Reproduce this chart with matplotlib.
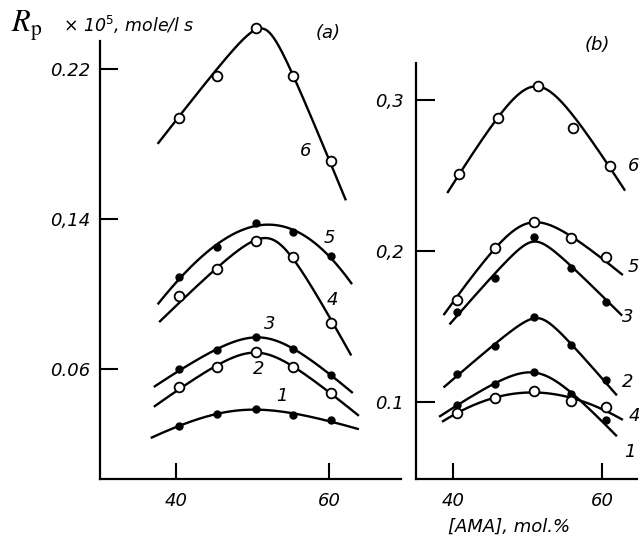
import numpy as np
import matplotlib
matplotlib.use("Agg")
import matplotlib.pyplot as plt

# [AMA], mol.% of the measured points
x_a = [40.4, 45.4, 50.4, 55.3, 60.2]
x_b = [40.5, 45.6, 50.8, 55.8, 60.5]
x_b6 = [40.8, 46.0, 51.4, 56.1, 61.1]

# panel (a) : Rp x 10^5, mole/l s
a1 = [0.0296, 0.0360, 0.0387, 0.0355, 0.0328]
a2 = [0.0504, 0.0611, 0.0691, 0.0611, 0.0472]
a3 = [0.0600, 0.0701, 0.0771, 0.0707, 0.0568]
a4 = [0.0989, 0.1133, 0.1283, 0.1197, 0.0845]
a5 = [0.1090, 0.1250, 0.1380, 0.1330, 0.1200]
a6 = [0.194, 0.216, 0.242, 0.216, 0.171]

# panel (b)
b1 = [0.098, 0.112, 0.120, 0.105, 0.088]
b2 = [0.1185, 0.137, 0.156, 0.138, 0.1146]
b3 = [0.1596, 0.182, 0.209, 0.1887, 0.166]
b4 = [0.0927, 0.1026, 0.1073, 0.1007, 0.0967]
b5 = [0.1675, 0.202, 0.219, 0.2086, 0.196]
b6 = [0.251, 0.288, 0.309, 0.281, 0.256]

# where the hand drawn curve passes when it misses a point
a6_curve = [0.194, 0.219, 0.242, 0.216, 0.171]
b6_curve = [0.251, 0.288, 0.309, 0.289, 0.256]

# where the drawn curves start and end (x0, y0, x1, y1)
ends_a = {1: (36.7, 0.0232, 63.9, 0.0275), 2: (37.1, 0.0392, 63.9, 0.0349),
          3: (37.1, 0.0499, 63.1, 0.0472), 4: (37.8, 0.0824, 62.9, 0.0685),
          5: (37.6, 0.0940, 63.0, 0.1050), 6: (37.6, 0.181, 62.2, 0.149)}
ends_b = {1: (38.1, 0.090, 62.0, 0.075), 2: (38.7, 0.109, 62.0, 0.103),
          3: (39.5, 0.150, 62.7, 0.159), 4: (38.5, 0.0868, 62.8, 0.0868),
          5: (38.7, 0.159, 62.8, 0.182), 6: (39.2, 0.238, 63.1, 0.239)}

# curve number labels
lab_a = {1: (53.8, 0.0456), 2: (50.8, 0.060), 3: (52.2, 0.084),
         4: (60.4, 0.097), 5: (60.1, 0.130), 6: (56.9, 0.176)}
lab_b = {1: (63.8, 0.067), 2: (63.5, 0.113), 3: (63.4, 0.156),
         4: (64.4, 0.091), 5: (64.2, 0.189), 6: (64.2, 0.256)}

ytick_a = [0.06, 0.14, 0.22]
ytick_a_lab = ["0.06", "0,14", "0.22"]
ytick_b = [0.1, 0.2, 0.3]
ytick_b_lab = ["0.1", "0,2", "0,3"]
xtick = [40, 60]

tfont = ['Liberation Sans Narrow', 'DejaVu Sans']


def peak_fit(xs, ys):
    # least squares y = c + a*u - b*sqrt(u^2 + e^2), u = x - x0
    # (two straight flanks joined by a rounded top, like the drawn curves)
    xs = np.asarray(xs, float)
    ys = np.asarray(ys, float)
    best = None
    for x0 in np.linspace(xs[1], xs[-2], 90):
        u = xs - x0
        for e in np.geomspace(2.0, 25, 50):
            A = np.column_stack([np.ones_like(u), u, -np.sqrt(u ** 2 + e ** 2)])
            coef, *_ = np.linalg.lstsq(A, ys, rcond=None)
            err = np.sum((A @ coef - ys) ** 2)
            if best is None or err < best[0]:
                best = (err, x0, e, coef)
    _, x0, e, (c, a, b) = best
    xx = np.linspace(xs[0], xs[-1], 300)
    u = xx - x0
    return xx, c + a * u - b * np.sqrt(u ** 2 + e ** 2)


def draw_curve(ax, x, y, ends, filled, ycurve=None):
    x0, y0, x1, y1 = ends
    yc = y if ycurve is None else ycurve
    xx, yy = peak_fit([x0] + list(x) + [x1], [y0] + list(yc) + [y1])
    ax.plot(xx, yy, color='k', lw=1.7, zorder=2, solid_capstyle='butt')
    if filled:
        ax.plot(x, y, 'o', ms=5, color='k', zorder=3)
    else:
        ax.plot(x, y, 'o', ms=7, mfc='white', mec='k', mew=1.3, zorder=3)


fig = plt.figure(figsize=(6.42, 5.40), dpi=100, facecolor='w')
ax_a = fig.add_axes([100/642, 61/540, 301/642, 479/540])
ax_b = fig.add_axes([416/642, 61/540, 221/642, 479/540])

ax_a.set_xlim(30.07, 69.4)
ax_a.set_ylim(0.0013, 0.2568)
ax_b.set_xlim(35.0, 64.7)
ax_b.set_ylim(0.049, 0.366)

for n, (yv, f) in enumerate([(a1, 1), (a2, 0), (a3, 1), (a4, 0), (a5, 1), (a6, 0)], 1):
    draw_curve(ax_a, x_a, yv, ends_a[n], f, a6_curve if n == 6 else None)
    ax_a.text(*lab_a[n], str(n), family=tfont, style='italic', fontsize=13,
              ha='center', va='center')

for n, (xv, yv, f) in enumerate([(x_b, b1, 1), (x_b, b2, 1), (x_b, b3, 1),
                                 (x_b, b4, 0), (x_b, b5, 0), (x_b6, b6, 0)], 1):
    draw_curve(ax_b, xv, yv, ends_b[n], f, b6_curve if n == 6 else None)
    ax_b.text(*lab_b[n], str(n), family=tfont, style='italic', fontsize=13,
              ha='center', va='center', clip_on=False)

ax_a.text(59.9, 0.239, "(a)", family=tfont, style='italic', fontsize=13,
          ha='center', va='center')
ax_b.text(59.3, 0.336, "(b)", family=tfont, style='italic', fontsize=13,
          ha='center', va='center')

for ax, yt, ylab, ytop in [(ax_a, ytick_a, ytick_a_lab, 0.235),
                           (ax_b, ytick_b, ytick_b_lab, 0.324)]:
    ax.set_facecolor('none')
    ax.spines['top'].set_visible(False)
    ax.spines['right'].set_visible(False)
    ax.spines['left'].set_linewidth(1.6)
    ax.spines['bottom'].set_linewidth(1.6)
    ax.spines['left'].set_bounds(ax.get_ylim()[0], ytop)
    ax.set_yticks(yt)
    ax.set_yticklabels(ylab)
    ax.set_xticks(xtick)
    ax.set_xticklabels([str(v) for v in xtick])
    ax.tick_params(axis='y', direction='in', length=13, width=1.5, pad=7)
    ax.tick_params(axis='x', direction='in', length=11.5, width=1.5, pad=9)
    for t in ax.get_xticklabels() + ax.get_yticklabels():
        t.set_family(tfont)
        t.set_style('italic')
        t.set_fontsize(13)

ax_b.tick_params(axis='y', length=14, pad=9)

fig.text(11/642, 1 - 32/540, r'$R_{\mathrm{p}}$', fontsize=22,
         math_fontfamily='stix', va='baseline', ha='left')
fig.text(63/642, 1 - 32/540, r"$\times$ 10$^{5}$, mole/l s", family='DejaVu Sans',
         style='italic', fontsize=12.5, va='baseline', ha='left')
fig.text(509/642, 1 - 527/540, "[AMA], mol.%", family='DejaVu Sans',
         style='italic', fontsize=13, va='center', ha='center')

plt.savefig('out.png', dpi=100)
